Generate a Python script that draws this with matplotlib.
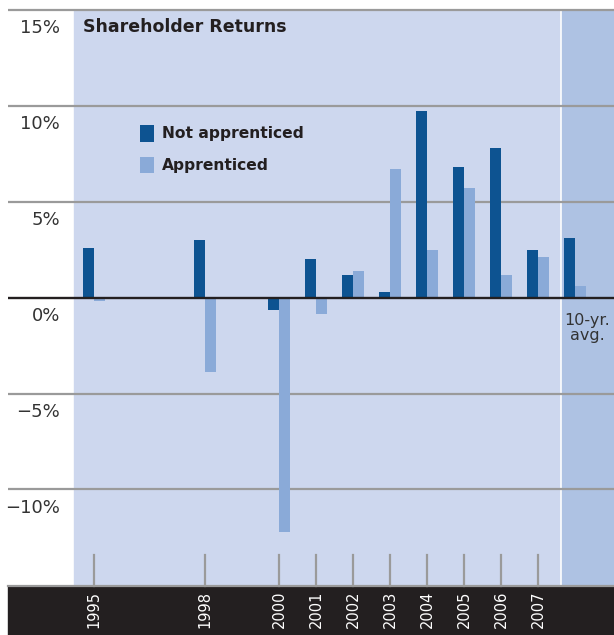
import matplotlib.pyplot as plt
from matplotlib.patches import Rectangle

# data (percent)
years = [1995, 1998, 2000, 2001, 2002, 2003, 2004, 2005, 2006, 2007]
year_labels = [str(y) for y in years]
not_apprenticed = [2.6, 3.0, -0.65, 2.0, 1.2, 0.3, 9.7, 6.8, 7.8, 2.5]
apprenticed = [-0.2, -3.9, -12.2, -0.85, 1.4, 6.7, 2.5, 5.7, 1.2, 2.1]
avg_not_apprenticed = 3.1
avg_apprenticed = 0.6
avg_pos = 2008
y_ticks = [15, 10, 5, 0, -5, -10]
y_tick_labels = ['15%', '10%', '5%', '0%', '\u22125%', '\u221210%']

dark = '#0d5391'
light = '#8aaad8'
bg = '#cdd7ee'
bg_avg = '#aec2e3'
ink = '#231f20'
grid = '#9a9a9a'

fig = plt.figure(figsize=(6.14, 6.35), dpi=100)
ax = fig.add_axes([0, 0, 1, 1])
x0, x1 = 1992.46, 2009.05
ax.set_xlim(x0, x1)
ax.set_ylim(-17.58, 15.5)
ax.axis('off')

# background panels
ax.add_patch(Rectangle((1994.46, -15.03), 2007.56 - 1994.46, 30.03, color=bg, zorder=0))
ax.add_patch(Rectangle((2007.64, -15.03), x1 - 2007.64, 30.03, color=bg_avg, zorder=0))

# grid lines
for v in y_ticks:
    if v == 0:
        continue
    ax.plot([1992.68, x1], [v, v], color=grid, lw=1.6, zorder=1, solid_capstyle='butt')

# bars
w = 0.3
ax.bar([y - w / 2 for y in years], not_apprenticed, width=w, color=dark, zorder=2,
       label='Not apprenticed')
ax.bar([y + w / 2 for y in years], apprenticed, width=w, color=light, zorder=2,
       label='Apprenticed')
ax.bar(avg_pos - w / 2, avg_not_apprenticed, width=w, color=dark, zorder=2)
ax.bar(avg_pos + w / 2, avg_apprenticed, width=w, color=light, zorder=2)

# zero line
ax.plot([1992.68, x1], [0, 0], color=ink, lw=1.7, zorder=3, solid_capstyle='butt')

# y labels sit just under each grid line
for v, lab in zip(y_ticks, y_tick_labels):
    ax.text(1994.08, v - 0.95, lab, ha='right', va='center', fontsize=13,
            color='#333333')

# bottom band with year labels
ax.add_patch(Rectangle((1992.68, -17.6), x1 - 1992.68, 17.6 - 15.03, color=ink, zorder=1))
ax.plot([1992.68, x1], [-15.03, -15.03], color=grid, lw=1.6, zorder=2)
for y, lab in zip(years, year_labels):
    ax.plot([y, y], [-13.4, -15.03], color=grid, lw=1.6, zorder=1)
    ax.text(y, -16.25, lab, rotation=90, ha='center', va='center', fontsize=10.5,
            color='white')

ax.text(avg_pos + 0.32, -1.6, '10-yr.\navg.', ha='center', va='center',
        fontsize=11.5, color='#333333', linespacing=1.0)

ax.text(1994.7, 14.1, 'Shareholder Returns', ha='left', va='center',
        fontsize=12.5, fontweight='bold', color=ink)

leg = ax.legend(loc='upper left', bbox_to_anchor=(132 / 614, 1 - 117 / 635),
                frameon=False, handlelength=0.9, handleheight=1.3,
                handletextpad=0.55, labelspacing=0.95, borderpad=0,
                prop={'weight': 'bold', 'size': 11.2})
for t in leg.get_texts():
    t.set_color(ink)

fig.savefig('out.png', dpi=100)
